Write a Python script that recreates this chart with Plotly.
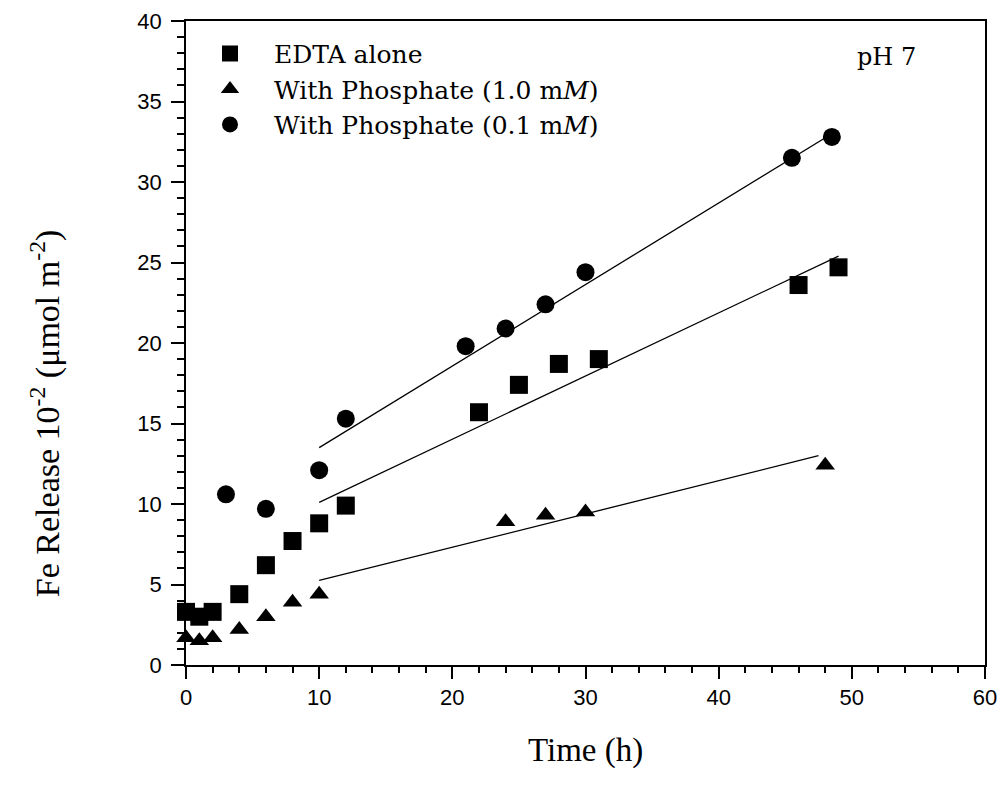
import plotly.graph_objects as go

# Data
edta_t = [0, 1, 2, 4, 6, 8, 10, 12, 22, 25, 28, 31, 46, 49]
edta_fe = [3.3, 3.0, 3.3, 4.4, 6.2, 7.7, 8.8, 9.9, 15.7, 17.4, 18.7, 19.0, 23.6, 24.7]

p10_t = [0, 1, 2, 4, 6, 8, 10, 24, 27, 30, 48]
p10_fe = [1.7, 1.5, 1.7, 2.2, 3.0, 3.9, 4.4, 8.9, 9.3, 9.5, 12.4]

p01_t = [3, 6, 10, 12, 21, 24, 27, 30, 45.5, 48.5]
p01_fe = [10.6, 9.7, 12.1, 15.3, 19.8, 20.9, 22.4, 24.4, 31.5, 32.8]

# Fitted lines (endpoints)
edta_fit_t = [10, 49]
edta_fit_fe = [10.1, 25.4]
p10_fit_t = [10, 47.5]
p10_fit_fe = [5.25, 13.0]
p01_fit_t = [10, 48.5]
p01_fit_fe = [13.5, 33.0]

fig = go.Figure()

for ft, ff in [(edta_fit_t, edta_fit_fe), (p10_fit_t, p10_fit_fe), (p01_fit_t, p01_fit_fe)]:
    fig.add_trace(go.Scatter(x=ft, y=ff, mode="lines", line=dict(color="black", width=1.3),
                             showlegend=False, hoverinfo="skip"))

fig.add_trace(go.Scatter(x=edta_t, y=edta_fe, mode="markers", name="EDTA alone",
                         marker=dict(symbol="square", size=18, color="black"), cliponaxis=False))
fig.add_trace(go.Scatter(x=p10_t, y=p10_fe, mode="markers", name="With Phosphate (1.0 m<i>M</i>)",
                         marker=dict(symbol="triangle-up", size=17, color="black"), cliponaxis=False))
fig.add_trace(go.Scatter(x=p01_t, y=p01_fe, mode="markers", name="With Phosphate (0.1 m<i>M</i>)",
                         marker=dict(symbol="circle", size=18, color="black"), cliponaxis=False))

axis_common = dict(showline=True, linecolor="black", linewidth=1.5, mirror=True,
                   ticks="outside", tickwidth=1.5, tickcolor="black",
                   showgrid=False, zeroline=False, automargin=False,
                   tickfont=dict(family="Liberation Sans", size=22, color="black"))

fig.update_xaxes(range=[0, 60], dtick=10, tick0=0, ticklen=12,
                 minor=dict(dtick=2, ticks="outside", ticklen=6, tickwidth=1.5, tickcolor="black"),
                 **axis_common)
fig.update_yaxes(range=[0, 40], dtick=5, tick0=0, ticklen=13, ticklabelstandoff=5,
                 minor=dict(dtick=1, ticks="outside", ticklen=7, tickwidth=1.5, tickcolor="black"),
                 **axis_common)

fig.add_annotation(x=52.6, y=37.75, xref="x", yref="y", text="pH 7", showarrow=False,
                   xanchor="center", yanchor="middle",
                   font=dict(family="DejaVu Serif", size=24, color="black"))
fig.add_annotation(x=0.5, y=-0.132, xref="paper", yref="paper", text="Time (h)", showarrow=False,
                   xanchor="center", yanchor="middle",
                   font=dict(family="Liberation Serif", size=33, color="black"))
fig.add_annotation(x=-0.1765, y=0.391, xref="paper", yref="paper", textangle=-90,
                   xanchor="center", yanchor="middle",
                   text="Fe Release 10<sup>-2</sup> (μmol m<sup>-2</sup>)", showarrow=False,
                   font=dict(family="Liberation Serif", size=34, color="black"))

fig.update_layout(
    width=998, height=790,
    margin=dict(l=178, r=21, t=13, b=133),
    plot_bgcolor="white", paper_bgcolor="white",
    legend=dict(x=0.0, y=0.985, xanchor="left", yanchor="top",
                font=dict(family="DejaVu Serif", size=25, color="black"),
                bgcolor="rgba(0,0,0,0)", itemwidth=78, tracegroupgap=0),
)

fig.write_html("out.html")
